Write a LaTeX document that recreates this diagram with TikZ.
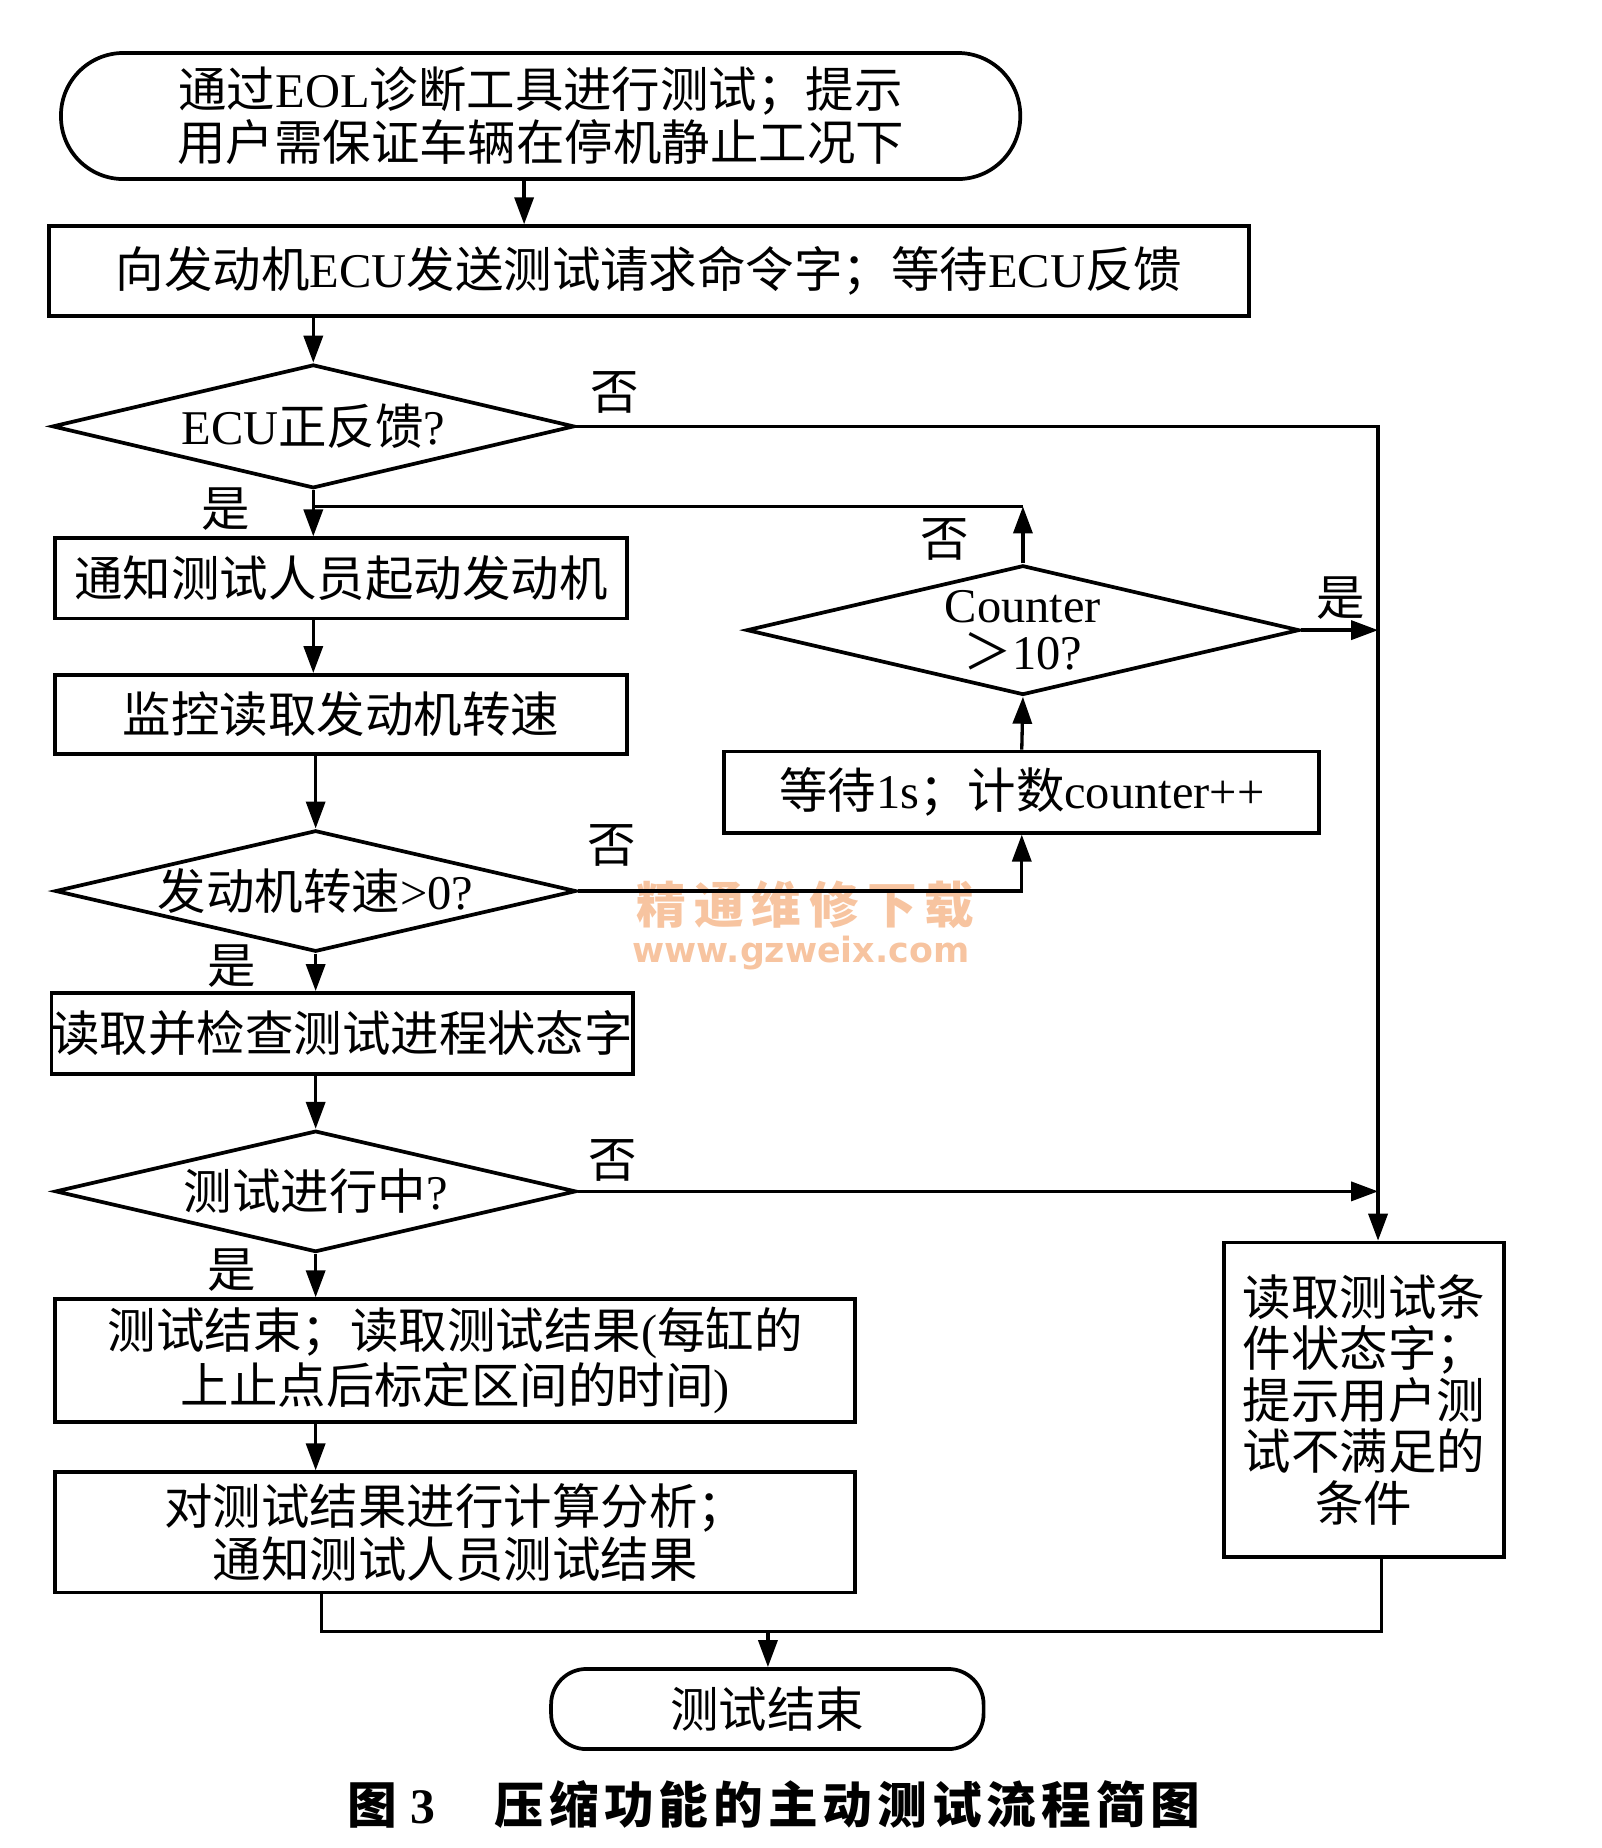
\documentclass[tikz,border=0pt]{standalone}
\usepackage{fontspec}
\usepackage{tikz}
\usepackage{xcolor}
\usetikzlibrary{shapes.geometric,arrows.meta}
\setmainfont{Liberation Serif}
\newfontfamily\cjkfont{Noto Sans CJK SC}
\newfontfamily\capfont{Noto Sans CJK SC}[LetterSpace=10]
\newfontfamily\markcjkfont{Noto Sans CJK SC}[LetterSpace=16]
\newfontfamily\markfont{DejaVu Sans}
\newcommand\cjkswitch{\cjkfont}
\newcommand\latinswitch{\rmfamily}
\XeTeXinterchartokenstate=1
\newXeTeXintercharclass\cjkclass
\newcommand\markcjkrange[2]{\count255=#1\relax
  \loop\XeTeXcharclass\count255=\cjkclass\advance\count255 by 1\relax
  \ifnum\count255<#2\relax\repeat}
\markcjkrange{"3000}{"3040}
\markcjkrange{"4E00}{"A000}
\markcjkrange{"FF00}{"FFF0}
\XeTeXinterchartoks 0 \cjkclass = {\cjkswitch}
\XeTeXinterchartoks 4095 \cjkclass = {\cjkswitch}
\XeTeXinterchartoks \cjkclass 0 = {\latinswitch}
\XeTeXinterchartoks 4095 0 = {\latinswitch}
\definecolor{mark-orange}{RGB}{247,196,160}
\tikzset{
    flow-text/.style = {font=\fontsize{11.7pt}{11.7pt}\selectfont, align=center, inner sep=0pt},
    flow-box/.style = {flow-text, draw, line width=0.9pt, rectangle},
    flow-term/.style = {flow-text, draw, line width=0.9pt, rectangle},
    flow-dia/.style = {flow-text, draw, line width=0.9pt, diamond, shape aspect=4.25},
    flow-line/.style = {line width=0.8pt},
    flow-arrow/.style = {flow-line, -{Triangle[length=6.5pt,width=4.6pt]}},
    flow-tag/.style = {flow-text},
    water-mark/.style = {text=mark-orange, inner sep=0pt},
}
\begin{document}
\begin{tikzpicture}[x=0.01cm, y=0.01cm]
\useasboundingbox (0,0) rectangle (1360,-1569);
\node[water-mark, font=\fontsize{12pt}{12pt}\selectfont\bfseries] (mark-cn) at (684,-768) {\let\cjkswitch\markcjkfont 精通维修下载};
\node[water-mark, font=\fontsize{8.4pt}{8.4pt}\markfont\bfseries] (mark-url) at (680,-809) {\let\latinswitch\markfont www.gzweix.com};
\node[flow-term, minimum width=8.14cm, minimum height=1.07cm, rounded corners=0.53cm] (start-term) at (459,-98.5) {通过EOL诊断工具进行测试；提示\\用户需保证车辆在停机静止工况下};
\node[flow-box, minimum width=10.18cm, minimum height=0.76cm] (send-box) at (551,-230) {向发动机ECU发送测试请求命令字；等待ECU反馈};
\node[flow-dia, minimum width=4.43cm, minimum height=1.05cm] (ecu-dia) at (266,-362) {ECU正反馈?};
\node[flow-box, minimum width=4.85cm, minimum height=0.68cm] (notify-box) at (289.5,-491) {通知测试人员起动发动机};
\node[flow-box, minimum width=4.85cm, minimum height=0.67cm] (monitor-box) at (289.5,-606.5) {监控读取发动机转速};
\node[flow-dia, minimum width=4.42cm, minimum height=1.03cm] (speed-dia) at (268,-756.5) {发动机转速>0?};
\node[flow-box, minimum width=5.05cm, minimum height=0.69cm] (wait-box) at (867.5,-672.5) {等待1s；计数counter++};
\node[flow-dia, minimum width=4.69cm, minimum height=1.10cm, font=\fontsize{11.7pt}{11.4pt}\selectfont] (counter-dia) at (868.5,-535) {Counter\\＞10?};
\node[flow-box, minimum width=4.85cm, minimum height=0.69cm] (read-box) at (290.5,-877.5) {读取并检查测试进程状态字};
\node[flow-dia, minimum width=4.42cm, minimum height=1.03cm] (test-dia) at (268,-1011.5) {测试进行中?};
\node[flow-box, minimum width=6.79cm, minimum height=1.04cm] (result-box) at (386.5,-1155) {测试结束；读取测试结果(每缸的\\上止点后标定区间的时间)};
\node[flow-box, minimum width=6.79cm, minimum height=1.02cm] (analyse-box) at (386.5,-1301) {对测试结果进行计算分析；\\通知测试人员测试结果};
\node[flow-box, minimum width=2.38cm, minimum height=2.67cm, font=\fontsize{11.7pt}{12.4pt}\selectfont] (cond-box) at (1158,-1188.5) {读取测试条\\件状态字；\\提示用户测\\试不满足的\\条件};
\node[flow-term, minimum width=3.67cm, minimum height=0.68cm, rounded corners=0.3cm] (end-term) at (651.5,-1451) {测试结束};
\node[flow-tag] (ecu-no) at (522,-333) {否};
\node[flow-tag] (ecu-yes) at (192,-432) {是};
\node[flow-tag] (counter-no) at (802,-458) {否};
\node[flow-tag] (counter-yes) at (1138,-508) {是};
\node[flow-tag] (speed-no) at (519,-718) {否};
\node[flow-tag] (speed-yes) at (197,-820) {是};
\node[flow-tag] (test-no) at (520,-985) {否};
\node[flow-tag] (test-yes) at (197,-1078) {是};
\node[flow-text, font=\fontsize{12pt}{12pt}\selectfont\bfseries] (fig-caption) at (657,-1532) {\let\cjkswitch\capfont 图\hspace{0.12cm}3\hspace{0.5cm}压缩功能的主动测试流程简图};
\coordinate (rail-top) at (1170,-362);
\coordinate (loop-turn) at (867,-430);
\coordinate (merge) at (652,-1385);
\draw[flow-arrow] ([xshift=-0.14cm]start-term.south) -- ([xshift=-0.14cm]start-term.south |- send-box.north);
\draw[flow-arrow] (send-box.south -| ecu-dia.north) -- (ecu-dia.north);
\draw[flow-arrow] (ecu-dia.south) -- (ecu-dia.south |- notify-box.north);
\draw[flow-arrow] (notify-box.south -| ecu-dia.south) -- (monitor-box.north -| ecu-dia.south);
\draw[flow-arrow] (monitor-box.south -| speed-dia.north) -- (speed-dia.north);
\draw[flow-arrow] (speed-dia.south) -- (speed-dia.south |- read-box.north);
\draw[flow-arrow] (read-box.south -| test-dia.north) -- (test-dia.north);
\draw[flow-arrow] (test-dia.south) -- (test-dia.south |- result-box.north);
\draw[flow-arrow] (result-box.south -| test-dia.south) -- (analyse-box.north -| test-dia.south);
\draw[flow-arrow] (ecu-dia.east) -- (rail-top) -- (rail-top |- cond-box.north);
\draw[flow-arrow] (counter-dia.east) -- (counter-dia.east -| rail-top);
\draw[flow-arrow] (test-dia.east) -- (test-dia.east -| rail-top);
\draw[flow-arrow] (counter-dia.north) -- (counter-dia.north |- loop-turn);
\draw[flow-line] (counter-dia.north |- loop-turn) -- (loop-turn -| ecu-dia.south);
\draw[flow-arrow] (speed-dia.east) -| (wait-box.south);
\draw[flow-arrow] (wait-box.north) -- (counter-dia.south);
\draw[flow-line] ([xshift=0.05cm]analyse-box.south -| test-dia.south) |- (merge) -| ([xshift=0.15cm]cond-box.south);
\draw[flow-arrow] (merge) -- (merge |- end-term.north);
\end{tikzpicture}
\end{document}
